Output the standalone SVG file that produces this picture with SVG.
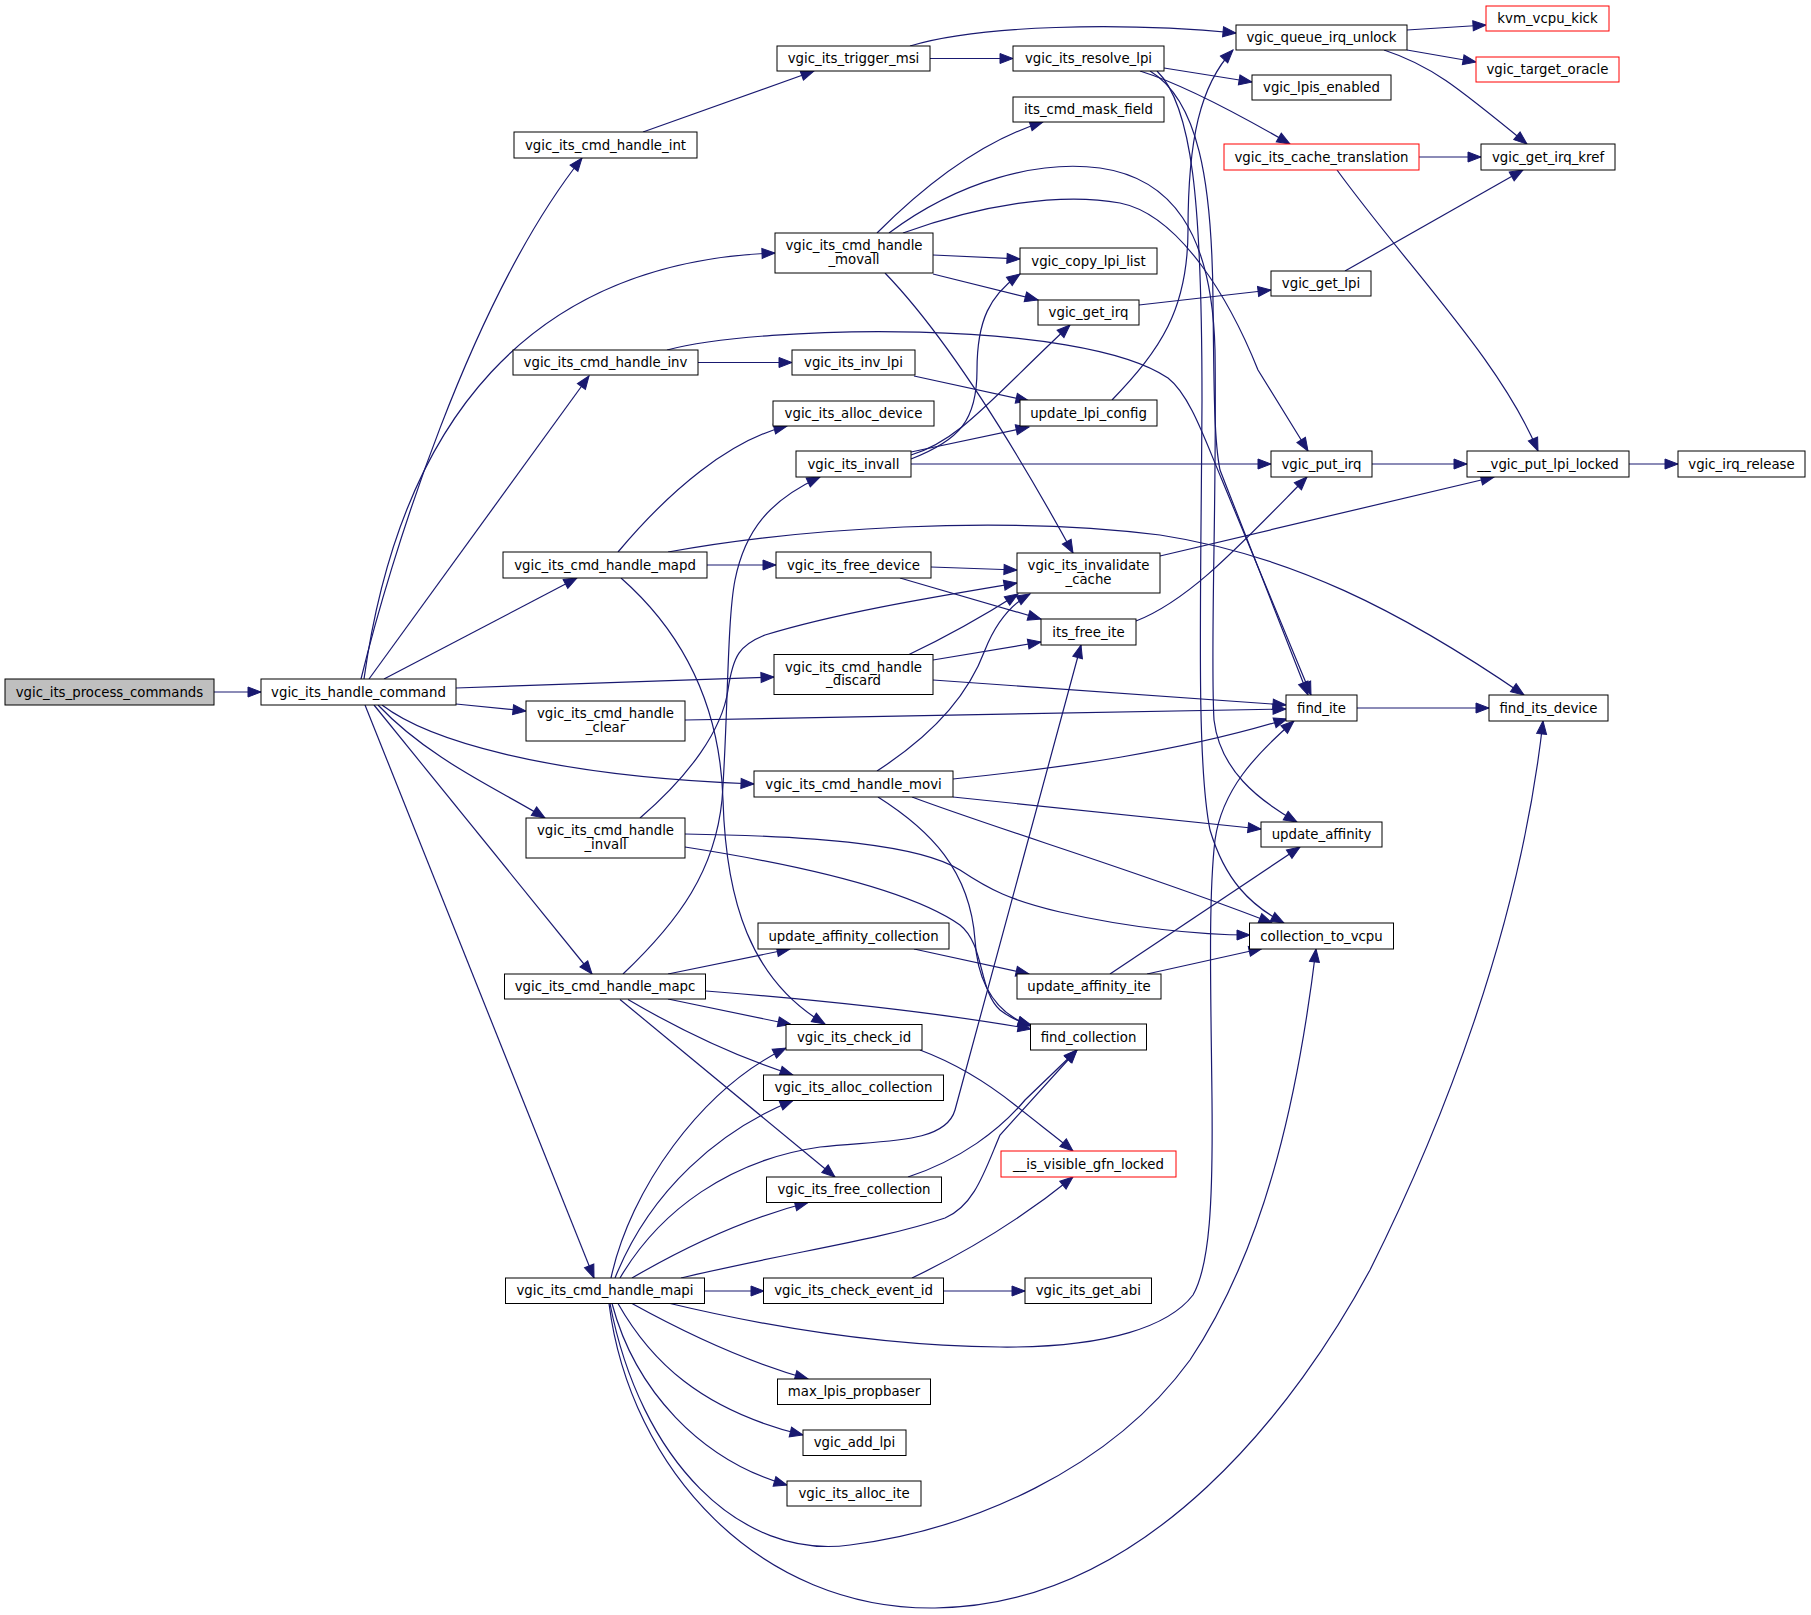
<svg xmlns="http://www.w3.org/2000/svg" width="1811" height="1615" viewBox="0 0 1811 1615">
<style>
.node rect{fill:#ffffff;stroke:#000000;stroke-width:1}
.red rect{stroke:#ff0000}
.root rect{fill:#bfbfbf}
.node text{font-family:"DejaVu Sans",sans-serif;font-size:13.3px;text-anchor:middle;fill:#000000}
.edges path{fill:none;stroke:#191970;stroke-width:1.2;marker-end:url(#arr)}
</style>
<defs>
<marker id="arr" markerUnits="userSpaceOnUse" markerWidth="13" markerHeight="10" refX="13" refY="5" orient="auto" overflow="visible">
<path d="M0,0 L13,5 L0,10 z" fill="#191970" stroke="#191970" stroke-width="1"/>
</marker>
</defs>
<rect x="0" y="0" width="1811" height="1615" fill="#ffffff"/>
<g class="edges" id="edges">
<path d="M214,692 L261,692"/>
<path d="M361,679 C390,560 470,300 582,158"/>
<path d="M364,679 C400,420 530,262 775,253"/>
<path d="M369,679 L589,376"/>
<path d="M384,679 L577,578"/>
<path d="M456,688 L774,677"/>
<path d="M456,704 L526,711"/>
<path d="M382,705 C425,738 540,776 754,784"/>
<path d="M378,705 C430,760 500,790 545,818"/>
<path d="M374,705 L592,974"/>
<path d="M365,705 L594,1278"/>
<path d="M643,132 L814,71"/>
<path d="M910,46 C980,25 1120,22 1236,33"/>
<path d="M930,58.5 L1013,58.5"/>
<path d="M1164,68 L1252,82"/>
<path d="M1140,71 C1185,85 1240,115 1290,144"/>
<path d="M1150,71 C1198,100 1212,180 1213,300 C1214,390 1214,440 1220,470 L1308,695"/>
<path d="M1157,71 C1192,105 1202,200 1202,400 C1201,600 1196,760 1210,830 C1225,880 1250,905 1284,923"/>
<path d="M1407,30 L1486,25"/>
<path d="M1407,50 L1476,62"/>
<path d="M1384,50 C1430,65 1455,85 1527,144"/>
<path d="M1419,157 L1481,157"/>
<path d="M1337,170 C1410,270 1500,360 1538,451"/>
<path d="M877,233 C930,180 985,140 1043,122"/>
<path d="M933,255 L1020,259"/>
<path d="M933,274 L1038,300"/>
<path d="M885,273 C940,330 1000,420 1073,553"/>
<path d="M889,233 C960,180 1040,160 1100,168 C1170,178 1212,230 1215,350 C1217,500 1210,650 1214,720 C1220,770 1258,800 1297,822"/>
<path d="M903,233 C980,205 1060,192 1120,203 C1180,215 1230,300 1258,370 L1308,451"/>
<path d="M1139,305 L1271,290"/>
<path d="M1345,271 L1523,170"/>
<path d="M698,362.5 L792,362.5"/>
<path d="M667,350 C760,325 1080,318 1168,378 C1190,395 1205,440 1222,480 L1311,695"/>
<path d="M914,376 L1029,401"/>
<path d="M1112,400 C1160,350 1188,310 1188,230 C1188,140 1200,85 1233,50"/>
<path d="M911,459 C960,440 977,420 977,370 C977,320 990,295 1020,274"/>
<path d="M911,455 C960,440 990,400 1070,325"/>
<path d="M911,452 L1029,427"/>
<path d="M911,464 L1271,464"/>
<path d="M1372,464 L1467,464"/>
<path d="M1629,464 L1678,464"/>
<path d="M618,552 C670,490 730,440 787,426"/>
<path d="M707,565 L776,565"/>
<path d="M668,552 C800,528 1000,515 1160,535 C1290,555 1400,610 1524,695"/>
<path d="M621,578 C680,630 720,700 723,800 C726,900 750,980 825,1024"/>
<path d="M931,567 L1017,570"/>
<path d="M900,578 L1041,619"/>
<path d="M1160,556 L1494,477"/>
<path d="M1136,621 C1190,600 1240,545 1307,477"/>
<path d="M908,655 C950,635 985,615 1018,594"/>
<path d="M933,660 L1041,642"/>
<path d="M933,680 L1286,705"/>
<path d="M685,720 L1286,709"/>
<path d="M1357,708 L1489,708"/>
<path d="M877,771 C940,730 970,690 985,650 C995,625 1010,605 1030,594"/>
<path d="M953,779 C1060,768 1180,752 1287,719"/>
<path d="M953,797 L1261,829"/>
<path d="M912,797 C1000,830 1150,875 1272,923"/>
<path d="M878,797 C930,830 970,870 975,940 C978,990 1000,1015 1031,1026"/>
<path d="M640,818 C690,775 722,730 728,690 C733,655 740,645 765,635 C840,612 940,596 1017,583"/>
<path d="M623,974 C680,920 715,870 722,800 C728,720 727,620 735,580 C745,530 770,500 820,477"/>
<path d="M685,834 C820,836 920,845 960,870 C990,890 1010,900 1060,912 C1130,928 1200,935 1250,935"/>
<path d="M685,847 C800,865 910,890 960,925 C985,945 978,990 1000,1010 C1010,1018 1020,1022 1031,1025"/>
<path d="M668,974 L790,949"/>
<path d="M706,991 C820,1000 940,1013 1031,1029"/>
<path d="M668,999 L791,1024.5"/>
<path d="M628,999.5 C680,1030 740,1058 793,1075"/>
<path d="M620,999.5 L835,1177"/>
<path d="M914,949 L1029,974"/>
<path d="M1110,974 L1300,847"/>
<path d="M1147,974 L1262,948.5"/>
<path d="M920,1050 C960,1065 990,1085 1015,1105 C1040,1125 1060,1140 1073,1151"/>
<path d="M908,1177 C960,1160 1000,1130 1025,1100 L1077,1050"/>
<path d="M611,1278 C630,1190 700,1090 786,1048"/>
<path d="M615,1278 C650,1190 720,1130 793,1100.5"/>
<path d="M620,1278 C660,1210 730,1160 820,1147 C880,1140 945,1145 955,1110 L1081,645"/>
<path d="M632,1278 C680,1250 740,1220 808,1202.5"/>
<path d="M681,1278 C790,1252 880,1240 945,1218 C975,1205 985,1170 1000,1135 L1077,1050"/>
<path d="M705,1291 L764,1291"/>
<path d="M668,1303 C760,1325 880,1346 1000,1347 C1110,1348 1170,1325 1193,1295 C1210,1265 1213,1200 1212,1100 C1211,1000 1208,900 1215,840 C1222,790 1255,755 1294,721"/>
<path d="M632,1303.5 C680,1330 740,1360 808,1379"/>
<path d="M618,1303.5 C650,1360 700,1410 803,1435"/>
<path d="M612,1303.5 C635,1390 700,1460 787,1485"/>
<path d="M610,1303.5 C640,1460 740,1560 850,1545 C970,1530 1110,1470 1190,1360 C1270,1240 1300,1080 1316,949"/>
<path d="M609,1303.5 C630,1470 760,1610 935,1608 C1150,1606 1300,1400 1370,1270 C1440,1130 1520,930 1543,721"/>
<path d="M944,1291 L1025,1291"/>
<path d="M912,1278 C960,1255 1020,1220 1073,1177"/>
</g>
<g id="n1" class="node root"><rect x="5" y="679" width="209" height="26"/><text x="109.5" y="696.5">vgic_its_process_commands</text></g>
<g id="n2" class="node"><rect x="261" y="679" width="195" height="26"/><text x="358.5" y="696.5">vgic_its_handle_command</text></g>
<g id="n3" class="node"><rect x="514" y="132" width="183" height="26"/><text x="605.5" y="149.5">vgic_its_cmd_handle_int</text></g>
<g id="n4" class="node"><rect x="777" y="46" width="153" height="25"/><text x="853.5" y="63">vgic_its_trigger_msi</text></g>
<g id="n5" class="node"><rect x="1013" y="46" width="151" height="25"/><text x="1088.5" y="63">vgic_its_resolve_lpi</text></g>
<g id="n6" class="node"><rect x="1236" y="25" width="171" height="25"/><text x="1321.5" y="42">vgic_queue_irq_unlock</text></g>
<g id="n7" class="node red"><rect x="1486" y="6" width="123" height="25"/><text x="1547.5" y="23">kvm_vcpu_kick</text></g>
<g id="n8" class="node red"><rect x="1476" y="57" width="143" height="25"/><text x="1547.5" y="74">vgic_target_oracle</text></g>
<g id="n9" class="node"><rect x="1252" y="75" width="139" height="25"/><text x="1321.5" y="92">vgic_lpis_enabled</text></g>
<g id="n10" class="node"><rect x="1013" y="97" width="151" height="25"/><text x="1088.5" y="114">its_cmd_mask_field</text></g>
<g id="n11" class="node red"><rect x="1224" y="144" width="195" height="26"/><text x="1321.5" y="161.5">vgic_its_cache_translation</text></g>
<g id="n12" class="node"><rect x="1481" y="144" width="134" height="26"/><text x="1548" y="161.5">vgic_get_irq_kref</text></g>
<g id="n13" class="node"><rect x="775" y="233" width="158" height="40"/><text x="854" y="250">vgic_its_cmd_handle</text><text x="854" y="263.5">_movall</text></g>
<g id="n14" class="node"><rect x="1020" y="248" width="137" height="26"/><text x="1088.5" y="265.5">vgic_copy_lpi_list</text></g>
<g id="n15" class="node"><rect x="1271" y="271" width="100" height="25"/><text x="1321" y="288">vgic_get_lpi</text></g>
<g id="n16" class="node"><rect x="1038" y="300" width="101" height="25"/><text x="1088.5" y="317">vgic_get_irq</text></g>
<g id="n17" class="node"><rect x="513" y="350" width="185" height="25"/><text x="605.5" y="367">vgic_its_cmd_handle_inv</text></g>
<g id="n18" class="node"><rect x="792" y="350" width="123" height="25"/><text x="853.5" y="367">vgic_its_inv_lpi</text></g>
<g id="n19" class="node"><rect x="773" y="401" width="161" height="25"/><text x="853.5" y="418">vgic_its_alloc_device</text></g>
<g id="n20" class="node"><rect x="1020" y="400" width="137" height="26"/><text x="1088.5" y="417.5">update_lpi_config</text></g>
<g id="n21" class="node"><rect x="796" y="451" width="115" height="26"/><text x="853.5" y="468.5">vgic_its_invall</text></g>
<g id="n22" class="node"><rect x="1271" y="451" width="101" height="26"/><text x="1321.5" y="468.5">vgic_put_irq</text></g>
<g id="n23" class="node"><rect x="1467" y="451" width="162" height="26"/><text x="1548" y="468.5">__vgic_put_lpi_locked</text></g>
<g id="n24" class="node"><rect x="1678" y="451" width="127" height="26"/><text x="1741.5" y="468.5">vgic_irq_release</text></g>
<g id="n25" class="node"><rect x="503" y="552" width="204" height="26"/><text x="605" y="569.5">vgic_its_cmd_handle_mapd</text></g>
<g id="n26" class="node"><rect x="776" y="552" width="155" height="26"/><text x="853.5" y="569.5">vgic_its_free_device</text></g>
<g id="n27" class="node"><rect x="1017" y="553" width="143" height="40"/><text x="1088.5" y="570">vgic_its_invalidate</text><text x="1088.5" y="583.5">_cache</text></g>
<g id="n28" class="node"><rect x="1041" y="619" width="95" height="26"/><text x="1088.5" y="636.5">its_free_ite</text></g>
<g id="n29" class="node"><rect x="774" y="654.5" width="159" height="40"/><text x="853.5" y="671.5">vgic_its_cmd_handle</text><text x="853.5" y="685">_discard</text></g>
<g id="n30" class="node"><rect x="526" y="701" width="159" height="40"/><text x="605.5" y="718">vgic_its_cmd_handle</text><text x="605.5" y="731.5">_clear</text></g>
<g id="n31" class="node"><rect x="1286" y="695" width="71" height="26"/><text x="1321.5" y="712.5">find_ite</text></g>
<g id="n32" class="node"><rect x="1489" y="695" width="119" height="26"/><text x="1548.5" y="712.5">find_its_device</text></g>
<g id="n33" class="node"><rect x="754" y="771" width="199" height="26"/><text x="853.5" y="788.5">vgic_its_cmd_handle_movi</text></g>
<g id="n34" class="node"><rect x="1261" y="822" width="121" height="25"/><text x="1321.5" y="839">update_affinity</text></g>
<g id="n35" class="node"><rect x="526" y="818" width="159" height="40"/><text x="605.5" y="835">vgic_its_cmd_handle</text><text x="605.5" y="848.5">_invall</text></g>
<g id="n36" class="node"><rect x="758" y="923" width="191" height="26"/><text x="853.5" y="940.5">update_affinity_collection</text></g>
<g id="n37" class="node"><rect x="1249.5" y="923" width="144" height="26"/><text x="1321.5" y="940.5">collection_to_vcpu</text></g>
<g id="n38" class="node"><rect x="1017" y="974" width="144" height="25"/><text x="1089" y="991">update_affinity_ite</text></g>
<g id="n39" class="node"><rect x="504.5" y="974" width="201" height="25"/><text x="605" y="991">vgic_its_cmd_handle_mapc</text></g>
<g id="n40" class="node"><rect x="786" y="1024.5" width="136" height="25.5"/><text x="854" y="1041.5">vgic_its_check_id</text></g>
<g id="n41" class="node"><rect x="1030.5" y="1024" width="116" height="26"/><text x="1088.5" y="1041.5">find_collection</text></g>
<g id="n42" class="node"><rect x="763.5" y="1075" width="180" height="25.5"/><text x="853.5" y="1092">vgic_its_alloc_collection</text></g>
<g id="n43" class="node red"><rect x="1001" y="1151" width="175" height="26"/><text x="1088.5" y="1168.5">__is_visible_gfn_locked</text></g>
<g id="n44" class="node"><rect x="766.5" y="1177" width="175" height="25.5"/><text x="854" y="1194">vgic_its_free_collection</text></g>
<g id="n45" class="node"><rect x="505.5" y="1278" width="199" height="25.5"/><text x="605" y="1295">vgic_its_cmd_handle_mapi</text></g>
<g id="n46" class="node"><rect x="763.5" y="1278" width="180" height="25.5"/><text x="853.5" y="1295">vgic_its_check_event_id</text></g>
<g id="n47" class="node"><rect x="1025" y="1278" width="126.5" height="25.5"/><text x="1088.25" y="1295">vgic_its_get_abi</text></g>
<g id="n48" class="node"><rect x="777.5" y="1379" width="153" height="25.5"/><text x="854" y="1396">max_lpis_propbaser</text></g>
<g id="n49" class="node"><rect x="803" y="1430" width="103" height="25.5"/><text x="854.5" y="1447">vgic_add_lpi</text></g>
<g id="n50" class="node"><rect x="787" y="1481" width="134" height="25"/><text x="854" y="1498">vgic_its_alloc_ite</text></g>
</svg>
